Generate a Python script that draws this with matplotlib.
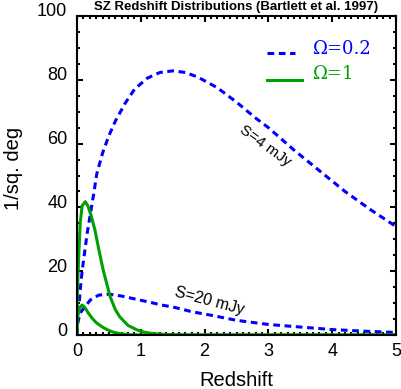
"""
SZ redshift distributions, Bartlett et al. 1997 (IDL-style line plot).
"""

import matplotlib
matplotlib.use("Agg")
from matplotlib import pyplot as plt
from matplotlib.ticker import MultipleLocator
from matplotlib.transforms import ScaledTranslation

W, H = 401, 389
BLUE = "#0000ff"
GREEN = "#00a000"

# Omega = 0.2, S = 4 mJy
z_low4 = [0.0, 0.01, 0.05, 0.08, 0.12, 0.16, 0.21, 0.26, 0.31, 0.4, 0.5, 0.6,
          0.75, 0.9, 1.1, 1.3, 1.5, 1.7, 1.9, 2.2, 2.5, 2.8, 3.0, 3.4, 3.8,
          4.2, 4.6, 5.0]
n_low4 = [0.0, 3.7, 14, 20, 26, 32, 38, 44, 50.5, 57, 62.5, 67,
          72.5, 77, 80.5, 82.3, 82.8, 82.3, 80.8, 77.5, 73, 68, 65, 58, 51.5,
          45, 39.3, 34]

# Omega = 0.2, S = 20 mJy
z_low20 = [0.0, 0.01, 0.05, 0.13, 0.21, 0.34, 0.5, 0.7, 0.86, 1.02, 1.18,
           1.32, 1.5, 1.8, 2.1, 2.5, 3.0, 3.5, 4.0, 4.5, 5.0]
n_low20 = [0.0, 3.7, 6.9, 9, 11, 12.5, 12.8, 12.2, 11.5, 10.8, 10.1,
           9.4, 8.8, 7.3, 6.2, 4.6, 3.3, 2.5, 1.7, 1.2, 0.8]

# Omega = 1, S = 4 mJy
z_ein4 = [0.0, 0.005, 0.026, 0.05, 0.08, 0.13, 0.17, 0.22, 0.28, 0.34, 0.41,
          0.52, 0.6, 0.67, 0.8, 0.94, 1.05, 1.2, 1.5, 2.0, 5.0]
n_ein4 = [0.0, 13, 24.5, 35, 40.5, 41.8, 40.5, 37.5, 33, 27, 20.4,
          12, 8, 5.7, 3, 1.6, 0.9, 0.4, 0.05, 0.0, 0.0]

# Omega = 1, S = 20 mJy
z_ein20 = [0.0, 0.005, 0.04, 0.08, 0.12, 0.18, 0.24, 0.3, 0.39, 0.47, 0.55,
           0.65, 0.8, 1.0, 5.0]
n_ein20 = [0.0, 5.3, 8.5, 9.4, 8.7, 6.8, 5.2, 3.9, 2.6, 1.7, 1.0,
           0.5, 0.1, 0.0, 0.0]

XTICKS = [0, 1, 2, 3, 4, 5]
YTICKS = [0, 20, 40, 60, 80, 100]


def main() -> None:
    plt.rcParams["font.family"] = ["Liberation Sans", "DejaVu Sans"]
    fig = plt.figure(figsize=(W / 100, H / 100), dpi=100)
    ax = fig.add_axes([77 / W, 1 - 335 / H, (396 - 77) / W, (335 - 16) / H])

    dash = (0, (2.2, 1.5))
    ax.plot(z_low4, n_low4, color=BLUE, lw=2.2, linestyle=dash,
            dash_capstyle="butt")
    ax.plot(z_low20, n_low20, color=BLUE, lw=2.2, linestyle=dash,
            dash_capstyle="butt")
    ax.plot(z_ein4, n_ein4, color=GREEN, lw=2.2)
    ax.plot(z_ein20, n_ein20, color=GREEN, lw=2.2)

    ax.set_xlim(0, 5)
    ax.set_ylim(0, 100)
    ax.set_xticks(XTICKS)
    ax.set_yticks(YTICKS)
    ax.xaxis.set_minor_locator(MultipleLocator(0.1))
    ax.yaxis.set_minor_locator(MultipleLocator(5))
    ax.tick_params(which="both", direction="in", top=True, right=True,
                   width=1.5, labelsize=13)
    ax.tick_params(which="major", length=4.5)
    ax.tick_params(which="minor", length=2.2)
    ax.tick_params(axis="x", pad=6)
    ax.tick_params(axis="y", pad=7)
    for sp in ax.spines.values():
        sp.set_linewidth(1.5)
    # IDL puts the y labels a little above their ticks
    shift = ScaledTranslation(0, 6 / 100, fig.dpi_scale_trans)
    for lab in ax.get_yticklabels():
        lab.set_transform(lab.get_transform() + shift)

    # legend drawn by hand, in the IDL manner
    ax.plot([2.98, 3.42], [88.3, 88.3], color=BLUE, lw=2.2, linestyle=dash,
            dash_capstyle="butt")
    ax.plot([2.98, 3.52], [79.9, 79.9], color=GREEN, lw=2.2)
    ax.text(3.7, 89.6, "Ω=0.2", color=BLUE, fontsize=13,
            family="DejaVu Serif", va="center", ha="left")
    ax.text(3.7, 81.8, "Ω=1", color=GREEN, fontsize=13,
            family="DejaVu Serif", va="center", ha="left")

    ax.text(2.95, 59.2, "S=4 mJy", fontsize=11, rotation=-36,
            ha="center", va="center")
    ax.text(2.08, 10.8, "S=20 mJy", fontsize=11.5, rotation=-15,
            ha="center", va="center")

    fig.text(236 / W, 1 - 7 / H, "SZ Redshift Distributions (Bartlett et al. 1997)",
             fontsize=9.5, fontweight="bold", ha="center", va="center")
    fig.text(236 / W, 1 - 381 / H, "Redshift", fontsize=14.5,
             ha="center", va="center")
    fig.text(14 / W, 1 - 168 / H, "1/sq. deg", fontsize=14.5, rotation=90,
             ha="center", va="center")

    fig.savefig("out.png", dpi=100)


if __name__ == "__main__":
    main()
